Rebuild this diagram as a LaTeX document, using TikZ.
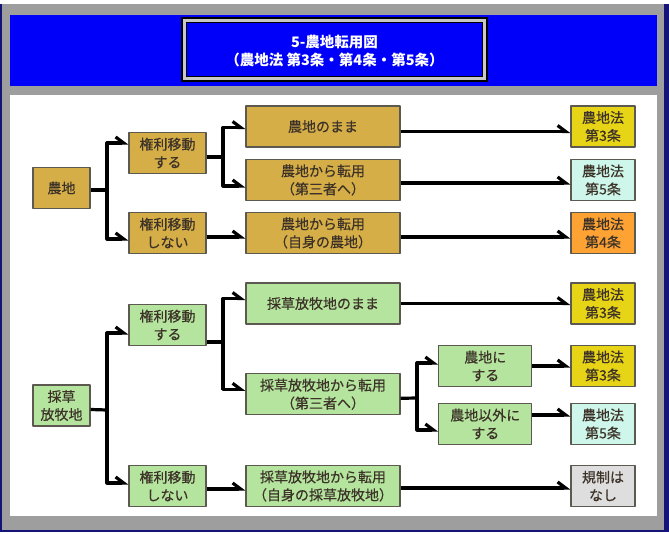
\documentclass[tikz,border=0pt]{standalone}
\usepackage{fontspec}
\setmainfont{Noto Sans CJK JP}[UprightFeatures={FakeBold=0.5}]
\newfontfamily\titlefont{Noto Sans CJK JP}
\usetikzlibrary{arrows.meta}
\definecolor{navy}{RGB}{20,20,120}
\definecolor{framegray}{RGB}{158,158,158}
\definecolor{titleblue}{RGB}{0,0,250}
\definecolor{lightframe}{RGB}{200,200,200}
\definecolor{gold}{RGB}{214,174,72}
\definecolor{leaf}{RGB}{180,228,158}
\definecolor{lemon}{RGB}{232,212,22}
\definecolor{mint}{RGB}{206,246,234}
\definecolor{amber}{RGB}{255,162,52}
\definecolor{pale}{RGB}{222,222,222}
\definecolor{boxline}{RGB}{92,90,80}
\definecolor{ink}{RGB}{60,50,40}
\begin{document}
\begin{tikzpicture}[x=1pt, y=-1pt, font=\fontsize{14}{18}\selectfont, line join=round,
		>={Straight Barb[left,length=8pt,width=12pt]},
		cell/.style={draw=boxline, line width=1.2pt, text=ink, align=center, inner sep=0pt, minimum height=41pt},
		src/.style={cell, minimum width=57pt},
		move/.style={cell, minimum width=77pt},
		use/.style={cell, minimum width=154pt},
		goal/.style={cell, minimum width=93pt},
		law/.style={cell, minimum width=64pt},
		link/.style={line width=3.2pt}]
	% frame
	\useasboundingbox (0,0) rectangle (669,534);
	\fill[white] (0,0) rectangle (669,534);
	\fill[navy] (0,4) rectangle (669,532);
	\fill[framegray] (2,4) rectangle (664,530);
	\fill[titleblue] (10,15) rectangle (657,86);
	\fill[white] (10,95) rectangle (657,516);
	\fill[black] (181,17) rectangle (488,82);
	\fill[lightframe] (183,19) rectangle (486,80);
	\fill[black] (186,22) rectangle (483,77);
	\fill[titleblue] (187,23) rectangle (482,76);
	\node[text=white, font=\titlefont\fontsize{14.5}{18}\selectfont\bfseries, align=center] (title) at (334.5,51) {5-農地転用図\\（農地法\ 第3条・第4条・第5条）};
	
	% 農地
	\node[src, fill=gold] (nochi) at (61.5,188) {農地};
	\node[move, fill=gold] (ksA) at (167.5,153) {権利移動\\する};
	\node[move, fill=gold] (knA) at (167.5,233) {権利移動\\しない};
	\node[use, fill=gold] (mmA) at (323,126.5) {農地のまま};
	\node[use, fill=gold] (tnA) at (323,180) {農地から転用\\（第三者へ）};
	\node[use, fill=gold] (jsA) at (323,233) {農地から転用\\（自身の農地）};
	\node[law, fill=lemon] (art3A) at (603,126.5) {農地法\\第3条};
	\node[law, fill=mint] (art5A) at (603,180) {農地法\\第5条};
	\node[law, fill=amber] (art4) at (603,233) {農地法\\第4条};
	
	% 採草放牧地
	\node[src, fill=leaf] (sochi) at (61.5,405.5) {採草\\放牧地};
	\node[move, fill=leaf] (ksB) at (167.5,325) {権利移動\\する};
	\node[move, fill=leaf] (knB) at (167.5,486) {権利移動\\しない};
	\node[use, fill=leaf] (mmB) at (323,303.5) {採草放牧地のまま};
	\node[use, fill=leaf] (tnB) at (323,394.3) {採草放牧地から転用\\（第三者へ）};
	\node[use, fill=leaf] (jsB) at (323,486) {採草放牧地から転用\\（自身の採草放牧地）};
	\node[goal, fill=leaf] (tonochi) at (485.3,366) {農地に\\する};
	\node[goal, fill=leaf] (toother) at (485.3,424) {農地以外に\\する};
	\node[law, fill=lemon] (art3B) at (603,303.5) {農地法\\第3条};
	\node[law, fill=lemon] (art3C) at (603,366) {農地法\\第3条};
	\node[law, fill=mint] (art5B) at (603,424) {農地法\\第5条};
	\node[law, fill=pale] (free) at (603,486) {規制は\\なし};
	
	\path
	(107,190) coordinate (forkA)
	(223,157) coordinate (forkB)
	(107,410) coordinate (forkC)
	(223,342) coordinate (forkD)
	(417,398) coordinate (forkE)
	;
	
	\draw[link] ([yshift=-2pt]nochi.east) -- (forkA);
	\draw[link,->] (forkA) |- ([yshift=10pt]ksA.west);
	\draw[link,->] (forkA) |- ([yshift=-6pt]knA.west);
	\draw[link] ([yshift=-4pt]ksA.east) -- (forkB);
	\draw[link,->] (forkB) |- ([yshift=-1pt]mmA.west);
	\draw[link,->] (forkB) |- ([yshift=-6pt]tnA.west);
	\draw[link,->] ([yshift=-4pt]knA.east) -- ([yshift=-4pt]jsA.west);
	\draw[link,->] ([yshift=-5pt]mmA.east) -- ([yshift=-5pt]art3A.west);
	\draw[link,->] ([yshift=-3pt]tnA.east) -- ([yshift=-3pt]art5A.west);
	\draw[link,->] ([yshift=-4pt]jsA.east) -- ([yshift=-4pt]art4.west);
	
	\draw[link] ([yshift=-4pt]sochi.east) -- (forkC);
	\draw[link,->] (forkC) |- ([yshift=-8pt]ksB.west);
	\draw[link,->] (forkC) |- ([yshift=3pt]knB.west);
	\draw[link] ([yshift=-17pt]ksB.east) -- (forkD);
	\draw[link,->] (forkD) |- ([yshift=5pt]mmB.west);
	\draw[link,->] (forkD) |- ([yshift=5pt]tnB.west);
	\draw[link,->] ([yshift=-3pt]knB.east) -- ([yshift=-3pt]jsB.west);
	\draw[link] ([yshift=-4pt]tnB.east) -- (forkE);
	\draw[link,->] (forkE) |- ([yshift=3pt]tonochi.west);
	\draw[link,->] (forkE) |- ([yshift=-6pt]toother.west);
	\draw[link,->] (mmB.east) -- (art3B.west);
	\draw[link,->] (tonochi.east) -- (art3C.west);
	\draw[link,->] ([yshift=9pt]toother.east) -- ([yshift=9pt]art5B.west);
	\draw[link,->] ([yshift=-2pt]jsB.east) -- ([yshift=-2pt]free.west);
\end{tikzpicture}
\end{document}
